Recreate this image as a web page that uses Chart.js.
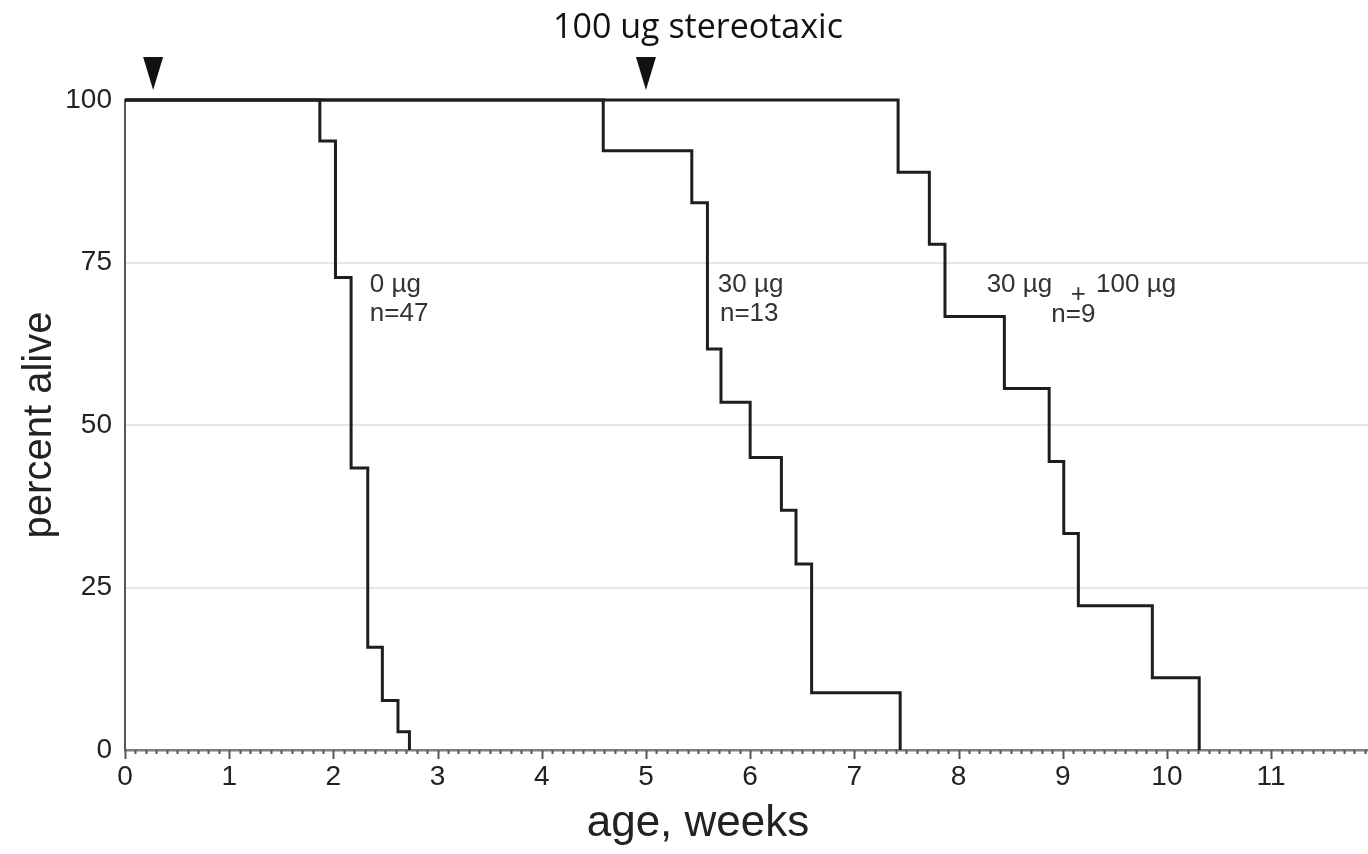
<!DOCTYPE html>
<html><head><meta charset="utf-8">
<script src="https://cdn.jsdelivr.net/npm/chart.js@4.4.1/dist/chart.umd.min.js"></script>
<style>html,body{margin:0;padding:0;background:#fff;overflow:hidden}#wrap{width:1368px;height:854px;position:relative}</style>
</head><body><div id="wrap"><canvas id="c" width="1368" height="854"></canvas></div>
<script>
// Kaplan-Meier survival data (weeks, percent alive)
const weeksA = [0, 1.87, 2.02, 2.17, 2.33, 2.47, 2.62, 2.73];
const aliveA = [100, 93.7, 72.7, 43.4, 15.8, 7.6, 2.8, 0];
const weeksB = [0, 4.59, 5.44, 5.59, 5.72, 6.00, 6.30, 6.44, 6.59, 7.44];
const aliveB = [100, 92.2, 84.2, 61.7, 53.5, 45.0, 36.9, 28.6, 8.8, 0];
const weeksC = [0, 7.42, 7.72, 7.87, 8.44, 8.87, 9.01, 9.15, 9.86, 10.31];
const aliveC = [100, 88.9, 77.8, 66.7, 55.6, 44.4, 33.3, 22.2, 11.1, 0];
const injectionWeeks = [0.27, 5.0];
const groupLabels = ['0 µg', '30 µg', '30 µg + 100 µg'];
const groupN = ['n=47', 'n=13', 'n=9'];
const xMax = 11.93;

function pts(xs, ys) { return xs.map((x, i) => ({x: x, y: ys[i]})); }

const TXT = '#222';
const LINE = '#1e1e1e';

const extras = {
  id: 'extras',
  afterDraw(chart) {
    const ctx = chart.ctx;
    const xs = chart.scales.x, ys = chart.scales.y;
    const area = chart.chartArea;
    ctx.save();
    // x ticks (major every week, minor every 0.1 week)
    ctx.strokeStyle = '#555';
    ctx.lineWidth = 2;
    const n = Math.floor(xMax * 10 + 1e-6);
    for (let i = 0; i <= n; i++) {
      const px = Math.round(xs.getPixelForValue(i / 10)) + 0.5;
      const len = (i % 10 === 0) ? 9 : 4;
      ctx.beginPath();
      ctx.moveTo(px, area.bottom);
      ctx.lineTo(px, area.bottom + len);
      ctx.stroke();
    }
    // injection arrowheads
    ctx.fillStyle = '#111';
    injectionWeeks.forEach(w => {
      const px = xs.getPixelForValue(w);
      ctx.beginPath();
      ctx.moveTo(px - 10, 57);
      ctx.lineTo(px + 10, 57);
      ctx.lineTo(px, 90);
      ctx.closePath();
      ctx.fill();
    });
    // title
    ctx.fillStyle = '#111';
    ctx.font = '34px "Open Sans"';
    ctx.textAlign = 'center';
    ctx.textBaseline = 'middle';
    ctx.fillText('100 ug stereotaxic', 698, 28);
    // x axis title
    ctx.fillStyle = TXT;
    ctx.font = '44px "Liberation Sans"';
    ctx.fillText('age, weeks', 698, 824);
    // group annotations
    ctx.fillStyle = '#333';
    ctx.font = '26px "Liberation Sans"';
    ctx.textAlign = 'left';
    const P = (x, y) => [xs.getPixelForValue(x), ys.getPixelForValue(y)];
    const lbl = (t, x, y) => { const p = P(x, y); ctx.fillText(t, p[0], p[1]); };
    const partsC = groupLabels[2].split(' + ');
    lbl(groupLabels[0], 2.35, 71.5);
    lbl(groupN[0], 2.35, 67.1);
    lbl(groupLabels[1], 5.69, 71.5);
    lbl(groupN[1], 5.71, 67.1);
    lbl(partsC[0], 8.27, 71.5);
    ctx.textAlign = 'center';
    lbl('+', 9.15, 70.0);
    ctx.textAlign = 'left';
    lbl(partsC[1], 9.32, 71.5);
    lbl(groupN[2], 8.89, 66.9);
    ctx.restore();
  }
};

const ds = (xs, ys, label) => ({
  label: label, data: pts(xs, ys), stepped: 'before', borderColor: LINE,
  borderWidth: 3, pointRadius: 0, fill: false, clip: false,
  borderJoinStyle: 'miter', borderCapStyle: 'butt'
});

new Chart(document.getElementById('c'), {
  type: 'line',
  data: { datasets: [ds(weeksA, aliveA, groupLabels[0]), ds(weeksB, aliveB, groupLabels[1]), ds(weeksC, aliveC, groupLabels[2])] },
  options: {
    responsive: false, animation: false, devicePixelRatio: 1,
    layout: { padding: { top: 100, left: 0, right: 0, bottom: 0 } },
    plugins: { legend: { display: false }, tooltip: { enabled: false } },
    scales: {
      x: {
        type: 'linear', min: 0, max: xMax,
        afterFit: s => { s.height = 104; },
        border: { color: '#808080', width: 2.5 },
        grid: { drawOnChartArea: false, drawTicks: false },
        ticks: { stepSize: 1, includeBounds: false, autoSkip: false, maxRotation: 0, padding: 10,
          color: TXT, font: { family: 'Liberation Sans', size: 28 },
          callback: v => Number.isInteger(v) ? String(v) : '' },
        title: { display: false }
      },
      y: {
        min: 0, max: 100,
        afterFit: s => { s.width = 125; },
        border: { color: '#555', width: 2 },
        grid: { drawTicks: false, lineWidth: 2,
          color: c => (c.tick && (c.tick.value === 0 || c.tick.value === 100)) ? 'rgba(0,0,0,0)' : '#e6e6e6' },
        ticks: { stepSize: 25, padding: 13, color: TXT, font: { family: 'Liberation Sans', size: 28 } },
        title: { display: true, text: 'percent alive', color: TXT,
          font: { family: 'Liberation Sans', size: 40 }, padding: { top: 16, bottom: 0 } }
      }
    }
  },
  plugins: [extras]
});
</script></body></html>
